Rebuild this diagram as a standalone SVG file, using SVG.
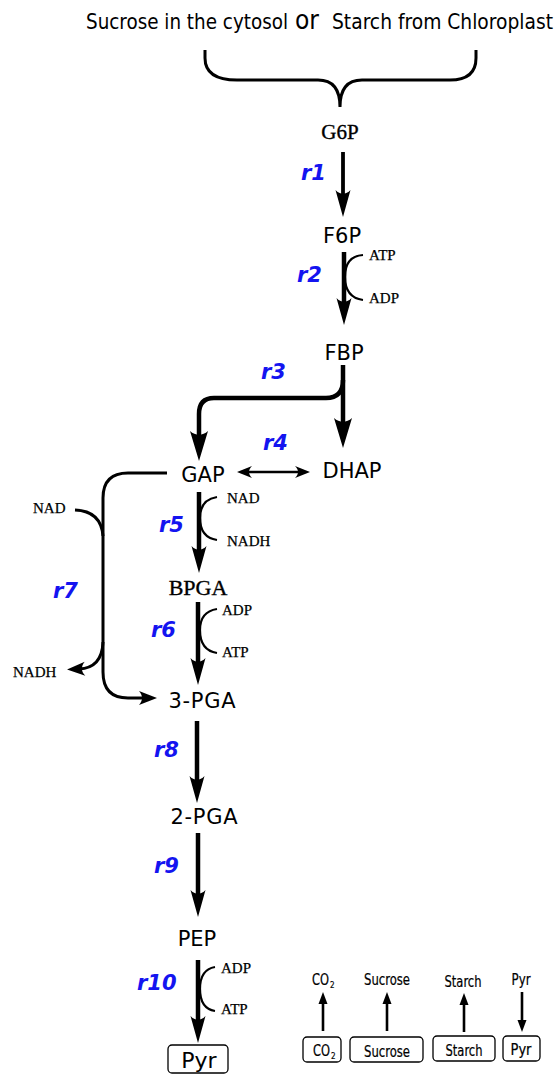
<svg xmlns="http://www.w3.org/2000/svg" width="560" height="1075" viewBox="0 0 560 1075">
  <style>
    .title { font-family: "DejaVu Sans Condensed", "DejaVu Sans", sans-serif; font-stretch: condensed; font-size: 21px; fill: #000; }
    .met { font-family: "DejaVu Sans", sans-serif; font-size: 21px; fill: #000; text-anchor: middle; }
    .smet { font-family: "Liberation Serif", "Times New Roman", serif; font-size: 21px; fill: #000; text-anchor: middle; stroke: #000; stroke-width: 0.35; }
    .cof { font-family: "Liberation Serif", "Times New Roman", serif; font-size: 15px; fill: #000; stroke: #000; stroke-width: 0.25; }
    .rx { font-family: "DejaVu Sans", sans-serif; font-weight: bold; font-style: italic; font-size: 21px; fill: #1414f0; }
    .leg { font-family: "DejaVu Sans Condensed", "DejaVu Sans", sans-serif; font-stretch: condensed; font-size: 15px; fill: #000; text-anchor: middle; stroke: #000; stroke-width: 0.2; }
    .legs { font-family: "DejaVu Sans Condensed", "DejaVu Sans", sans-serif; font-stretch: condensed; font-size: 15px; fill: #000; stroke: #000; stroke-width: 0.2; }
    .sub { font-size: 8px; }
    .box { fill: #fff; stroke: #000; stroke-width: 1.3; }
    .main { fill: none; stroke: #000; stroke-width: 4.5; }
    .thin { fill: none; stroke: #000; stroke-width: 2.2; }
    .mid { fill: none; stroke: #000; stroke-width: 3; }
    .flux { fill: none; stroke: #000; stroke-width: 2.6; }
    .brace { fill: none; stroke: #000; stroke-width: 3; }
  </style>
  <defs>
    <marker id="head" markerUnits="userSpaceOnUse" orient="auto" overflow="visible" markerWidth="1" markerHeight="1">
      <path d="M18,0 L-9,-7.5 C-4,-3 -4,3 -9,7.5 Z" fill="#000"/>
    </marker>
    <marker id="headL" markerUnits="userSpaceOnUse" orient="auto" overflow="visible" markerWidth="1" markerHeight="1">
      <path d="M20,0 L-10,-9 C-5,-3.5 -5,3.5 -10,9 Z" fill="#000"/>
    </marker>
    <marker id="headS" markerUnits="userSpaceOnUse" orient="auto" overflow="visible" markerWidth="1" markerHeight="1">
      <path d="M12,0 L-6,-7 C-2,-2.5 -2,2.5 -6,7 Z" fill="#000"/>
    </marker>
    <marker id="headD" markerUnits="userSpaceOnUse" orient="auto-start-reverse" overflow="visible" markerWidth="1" markerHeight="1">
      <path d="M8,0 L-7,-6 C-3,-2 -3,2 -7,6 Z" fill="#000"/>
    </marker>
    <marker id="headT" markerUnits="userSpaceOnUse" orient="auto" overflow="visible" markerWidth="1" markerHeight="1">
      <path d="M6,0 L-6,-4.5 L-6,4.5 Z" fill="#000"/>
    </marker>
  </defs>

  <!-- sources -->
  <g id="source">
    <text class="title" x="86" y="29" textLength="202" lengthAdjust="spacingAndGlyphs">Sucrose in the cytosol</text>
    <text class="title" x="295" y="29" style="font-size:26px" textLength="24" lengthAdjust="spacingAndGlyphs">or</text>
    <text class="title" x="332" y="29" textLength="221" lengthAdjust="spacingAndGlyphs">Starch from Chloroplast</text>
    <path class="brace" d="M205,50 L205,58 Q205,80 237,80 L318,80 Q340,80 340,107 Q340,80 362,80 L450,80 Q476,80 476,58 L476,50"/>
  </g>

  <!-- metabolites -->
  <g id="G6P"><text class="smet" x="340" y="139">G6P</text></g>
  <g id="F6P"><text class="met" x="342" y="243">F6P</text></g>
  <g id="FBP"><text class="met" x="344" y="360">FBP</text></g>
  <g id="GAP"><text class="met" x="203" y="482">GAP</text></g>
  <g id="DHAP"><text class="met" x="352" y="478">DHAP</text></g>
  <g id="BPGA"><text class="smet" x="198" y="595" style="font-size:22px">BPGA</text></g>
  <g id="PGA3"><text class="met" x="202" y="708" textLength="67" lengthAdjust="spacing">3-PGA</text></g>
  <g id="PGA2"><text class="met" x="204" y="824" textLength="67" lengthAdjust="spacing">2-PGA</text></g>
  <g id="PEP"><text class="met" x="197" y="946">PEP</text></g>
  <g id="Pyr">
    <rect class="box" x="168" y="1045" width="60" height="28" rx="4"/>
    <text class="met" x="199" y="1068" style="font-size:22px">Pyr</text>
  </g>

  <!-- cofactors -->
  <g id="cofactors">
    <text class="cof" x="369" y="260">ATP</text>
    <text class="cof" x="369" y="303">ADP</text>
    <text class="cof" x="227" y="503">NAD</text>
    <text class="cof" x="227" y="546">NADH</text>
    <text class="cof" x="222" y="615">ADP</text>
    <text class="cof" x="222" y="657">ATP</text>
    <text class="cof" x="221" y="973">ADP</text>
    <text class="cof" x="221" y="1014">ATP</text>
    <text class="cof" x="33" y="513">NAD</text>
    <text class="cof" x="13" y="677">NADH</text>
  </g>

  <!-- reaction labels -->
  <g id="reactions">
    <text class="rx" x="301" y="180">r1</text>
    <text class="rx" x="297" y="282">r2</text>
    <text class="rx" x="261" y="379">r3</text>
    <text class="rx" x="263" y="450">r4</text>
    <text class="rx" x="159" y="532">r5</text>
    <text class="rx" x="151" y="637">r6</text>
    <text class="rx" x="53" y="598">r7</text>
    <text class="rx" x="154" y="757">r8</text>
    <text class="rx" x="154" y="873">r9</text>
    <text class="rx" x="137" y="990">r10</text>
  </g>

  <!-- connectors -->
  <g id="connectors">
    <!-- r1 -->
    <path class="main" style="stroke-width:3.8" d="M343,152 L343,199" marker-end="url(#head)"/>
    <!-- r2 -->
    <path class="main" d="M344,252 L344,307" marker-end="url(#head)"/>
    <path class="thin" d="M363,255 C349,256 345,266 345,277 C345,288 349,298 363,300"/>
    <!-- r3 -->
    <path class="main" d="M343,365 L343,428" marker-end="url(#headL)"/>
    <path class="main" d="M343,380 Q343,398 326,398 L214,398 Q199,398 199,414 L199,441" marker-end="url(#headL)"/>
    <!-- r4 -->
    <path class="flux" d="M245,472 L302,472" marker-start="url(#headD)" marker-end="url(#headD)"/>
    <!-- r5 -->
    <path class="main" d="M199,492 L199,555" marker-end="url(#head)"/>
    <path class="thin" d="M217,497 C204,499 200,508 200,518 C200,529 204,538 217,540"/>
    <!-- r6 -->
    <path class="main" d="M198,602 L198,667" marker-end="url(#head)"/>
    <path class="thin" d="M217,609 C204,611 200,620 200,630 C200,641 204,651 217,653"/>
    <!-- r7 -->
    <path class="mid" d="M167,473 L128,473 Q103,473 103,498 L103,672 Q103,698 128,698 L145,698" marker-end="url(#headS)"/>
    <path class="mid" d="M75,510 Q101,511 103,536"/>
    <path class="mid" d="M103,642 Q102,668 79,669" marker-end="url(#headS)"/>
    <!-- r8 -->
    <path class="main" d="M197,721 L197,785" marker-end="url(#head)"/>
    <!-- r9 -->
    <path class="main" d="M198,833 L198,899" marker-end="url(#head)"/>
    <!-- r10 -->
    <path class="main" d="M198,960 L198,1025" marker-end="url(#head)"/>
    <path class="thin" d="M215,967 C203,969 200,978 200,989 C200,1000 203,1009 215,1011"/>
  </g>

  <!-- exchange legend -->
  <g id="legend">
    <g id="exCO2">
      <rect class="box" x="303" y="1037" width="38" height="25" rx="4"/>
      <text class="legs" x="313" y="1056" textLength="17" lengthAdjust="spacingAndGlyphs">CO</text>
      <text class="legs sub" x="331" y="1059">2</text>
      <path class="flux" d="M323,1031 L323,998" marker-end="url(#headT)"/>
      <text class="legs" x="312" y="985" textLength="17" lengthAdjust="spacingAndGlyphs">CO</text>
      <text class="legs sub" x="330" y="988">2</text>
    </g>
    <g id="exSucrose">
      <rect class="box" x="350" y="1037" width="73" height="25" rx="4"/>
      <text class="leg" x="387" y="1057" textLength="46" lengthAdjust="spacingAndGlyphs">Sucrose</text>
      <path class="flux" d="M387,1031 L387,998" marker-end="url(#headT)"/>
      <text class="leg" x="387" y="985" textLength="46" lengthAdjust="spacingAndGlyphs">Sucrose</text>
    </g>
    <g id="exStarch">
      <rect class="box" x="433" y="1036" width="62" height="25" rx="4"/>
      <text class="leg" x="464" y="1056" textLength="37" lengthAdjust="spacingAndGlyphs">Starch</text>
      <path class="flux" d="M464,1032 L464,999" marker-end="url(#headT)"/>
      <text class="leg" x="463" y="987" textLength="37" lengthAdjust="spacingAndGlyphs">Starch</text>
    </g>
    <g id="exPyr">
      <rect class="box" x="503" y="1036" width="37" height="25" rx="4"/>
      <text class="leg" x="521" y="1055" textLength="21" lengthAdjust="spacingAndGlyphs">Pyr</text>
      <path class="flux" d="M522,992 L522,1026" marker-end="url(#headT)"/>
      <text class="leg" x="521" y="985" textLength="19" lengthAdjust="spacingAndGlyphs">Pyr</text>
    </g>
  </g>
</svg>
